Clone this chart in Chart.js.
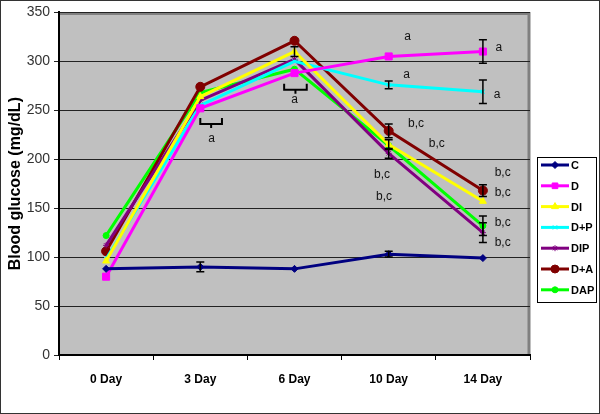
<!DOCTYPE html>
<html>
<head>
<meta charset="utf-8">
<script src="https://cdn.jsdelivr.net/npm/chart.js@4"></script>
<style>
  body { margin: 0; background: #fff; }
  #wrap { width: 600px; height: 414px; }
</style>
</head>
<body>
<div id="wrap"><canvas id="glucoseChart" width="600" height="414"></canvas></div>
<script>
// Datos
const days = ['0 Day', '3 Day', '6 Day', '10 Day', '14 Day'];
const groupC   = [88, 90, 88, 103, 99];
const groupD   = [80, 252, 288, 305, 310];
const groupDI  = [96, 264, 310, 215, 157];
const groupDP  = [98, 255, 300, 276, 269];
const groupDIP = [112, 260, 302, 206, 125];
const groupDA  = [106, 274, 321, 229, 168];
const groupDAP = [122, 268, 292, 214, 132];

// Barras de error (± mg/dL)
const errC   = [0, 5, 0, 3, 0];
const errD   = [0, 0, 0, 0, 12];
const errDI  = [0, 0, 5, 5, 0];
const errDP  = [0, 0, 0, 4, 12];
const errDIP = [0, 0, 0, 5, 10];
const errDA  = [0, 0, 0, 7, 6];
const errDAP = [0, 0, 0, 0, 10];

const yTicks = [0, 50, 100, 150, 200, 250, 300, 350];

// Letras de significancia (índice de categoría, valor)
const notes = [
    { t: 'a', x: 1.12, y: 221 },
    { t: 'a', x: 2.0, y: 261 },
    { t: 'a', x: 3.2, y: 325 },
    { t: 'a', x: 4.17, y: 314 },
    { t: 'a', x: 3.19, y: 286 },
    { t: 'a', x: 4.15, y: 266 },
    { t: 'b,c', x: 3.29, y: 236 },
    { t: 'b,c', x: 3.51, y: 216 },
    { t: 'b,c', x: 2.93, y: 184 },
    { t: 'b,c', x: 2.95, y: 162 },
    { t: 'b,c', x: 4.21, y: 186 },
    { t: 'b,c', x: 4.21, y: 166 },
    { t: 'b,c', x: 4.21, y: 135 },
    { t: 'b,c', x: 4.21, y: 115 }
];
const braces = [
    { x0: 1.0, x1: 1.23, y: 236 },
    { x0: 1.89, x1: 2.13, y: 271 }
];

function serie(label, data, err, color, style, radius) {
    return {
        label: label,
        data: data,
        err: err,
        borderColor: color,
        backgroundColor: color,
        borderWidth: 3,
        pointStyle: style,
        pointRadius: radius,
        pointBorderWidth: 1,
        pointHoverRadius: radius,
        tension: 0
    };
}

const datasets = [
    serie('C', groupC, errC, '#000080', 'rectRot', 3.5),
    serie('D', groupD, errD, '#ff00ff', 'rect', 5),
    serie('DI', groupDI, errDI, '#ffff00', 'triangle', 4),
    serie('D+P', groupDP, errDP, '#00ffff', 'crossRot', 3),
    serie('DIP', groupDIP, errDIP, '#800080', 'star', 3),
    serie('D+A', groupDA, errDA, '#800000', 'circle', 4.5),
    serie('DAP', groupDAP, errDAP, '#00ff00', 'circle', 3)
];

// Fondo gris del área del gráfico y marco exterior
const backgroundPlugin = {
    id: 'plotBg',
    beforeDraw(chart) {
        const { ctx, chartArea: a } = chart;
        ctx.save();
        ctx.fillStyle = '#fff';
        ctx.fillRect(0, 0, chart.width, chart.height);
        ctx.fillStyle = '#c0c0c0';
        ctx.fillRect(a.left, a.top, a.right - a.left, a.bottom - a.top);
        ctx.strokeStyle = '#808080';
        ctx.lineWidth = 3;
        ctx.beginPath();
        ctx.moveTo(a.left, a.top + 1);
        ctx.lineTo(a.right - 1, a.top + 1);
        ctx.lineTo(a.right - 1, a.bottom);
        ctx.stroke();
        ctx.strokeStyle = '#333';
        ctx.lineWidth = 1;
        ctx.strokeRect(0.5, 0.5, chart.width - 1, chart.height - 1);
        ctx.restore();
    }
};

// Barras de error, llaves, letras y leyenda
const extrasPlugin = {
    id: 'extras',
    afterDatasetsDraw(chart) {
        const { ctx, scales: { x, y } } = chart;
        ctx.save();
        ctx.strokeStyle = '#000';
        ctx.lineWidth = 1.5;
        chart.data.datasets.forEach(ds => {
            ds.data.forEach((v, i) => {
                const e = ds.err[i];
                if (!e) return;
                const px = x.getPixelForValue(i);
                const top = y.getPixelForValue(v + e);
                const bot = y.getPixelForValue(v - e);
                ctx.beginPath();
                ctx.moveTo(px, top); ctx.lineTo(px, bot);
                ctx.moveTo(px - 4, top); ctx.lineTo(px + 4, top);
                ctx.moveTo(px - 4, bot); ctx.lineTo(px + 4, bot);
                ctx.stroke();
            });
        });

        ctx.lineWidth = 2;
        braces.forEach(b => {
            const x0 = x.getPixelForValue(b.x0);
            const x1 = x.getPixelForValue(b.x1);
            const py = y.getPixelForValue(b.y);
            const mid = (x0 + x1) / 2;
            ctx.beginPath();
            ctx.moveTo(x0, py - 6); ctx.lineTo(x0, py); ctx.lineTo(x1, py); ctx.lineTo(x1, py - 6);
            ctx.moveTo(mid, py); ctx.lineTo(mid, py + 4);
            ctx.stroke();
        });

        ctx.fillStyle = '#111';
        ctx.font = '12px "Liberation Sans", Arial, sans-serif';
        ctx.textAlign = 'center';
        ctx.textBaseline = 'middle';
        notes.forEach(n => {
            ctx.fillText(n.t, x.getPixelForValue(n.x), y.getPixelForValue(n.y));
        });
        ctx.restore();
    },
    afterDraw(chart) {
        const { ctx } = chart;
        const lx = 537, ly = 157, w = 59, h = 145;
        ctx.save();
        ctx.fillStyle = '#fff';
        ctx.fillRect(lx, ly, w, h);
        ctx.strokeStyle = '#000';
        ctx.lineWidth = 1;
        ctx.strokeRect(lx + 0.5, ly + 0.5, w, h);
        ctx.font = 'bold 11px "Liberation Sans", Arial, sans-serif';
        ctx.textBaseline = 'middle';
        ctx.textAlign = 'left';
        chart.data.datasets.forEach((ds, i) => {
            const cy = ly + 8 + i * 20.8;
            ctx.strokeStyle = ds.borderColor;
            ctx.lineWidth = 3;
            ctx.beginPath();
            ctx.moveTo(lx + 4, cy); ctx.lineTo(lx + 32, cy);
            ctx.stroke();
            ctx.fillStyle = ds.borderColor;
            ctx.lineWidth = 1;
            Chart.helpers.drawPoint(ctx, {
                pointStyle: ds.pointStyle, radius: Math.min(ds.pointRadius, 4), borderWidth: 1, rotation: 0
            }, lx + 18, cy);
            ctx.fillStyle = '#000';
            ctx.fillText(ds.label, lx + 34, cy + 1);
        });
        ctx.restore();
    }
};

const ctx = document.getElementById('glucoseChart').getContext('2d');
const chart = new Chart(ctx, {
    type: 'line',
    data: { labels: days, datasets: datasets },
    options: {
        responsive: false,
        animation: false,
        layout: { padding: { left: 0, top: 10, right: 70, bottom: 0 } },
        plugins: {
            legend: { display: false },
            tooltip: { enabled: false }
        },
        scales: {
            x: {
                offset: true,
                afterFit: s => { s.height = 59; },
                grid: { display: true, drawOnChartArea: false, drawTicks: true, tickLength: 5, offset: true, color: '#000' },
                border: { color: '#000', width: 2 },
                ticks: {
                    color: '#000',
                    padding: 12,
                    font: { family: '"Liberation Sans", Arial, sans-serif', size: 12, weight: 'bold' }
                }
            },
            y: {
                min: 0,
                max: 350,
                afterFit: s => { s.width = 59; },
                afterBuildTicks: s => { s.ticks = yTicks.map(v => ({ value: v })); },
                grid: { color: '#222', lineWidth: 1, tickLength: 5, drawTicks: true },
                border: { color: '#000', width: 2 },
                ticks: {
                    color: '#333',
                    padding: 4,
                    font: { family: '"Liberation Sans", Arial, sans-serif', size: 14 }
                },
                title: {
                    display: true,
                    text: 'Blood glucose (mg/dL)',
                    color: '#000',
                    padding: { top: 6, bottom: 2 },
                    font: { family: '"Liberation Sans", Arial, sans-serif', size: 16, weight: 'bold' }
                }
            }
        }
    },
    plugins: [backgroundPlugin, extrasPlugin]
});
</script>
</body>
</html>
